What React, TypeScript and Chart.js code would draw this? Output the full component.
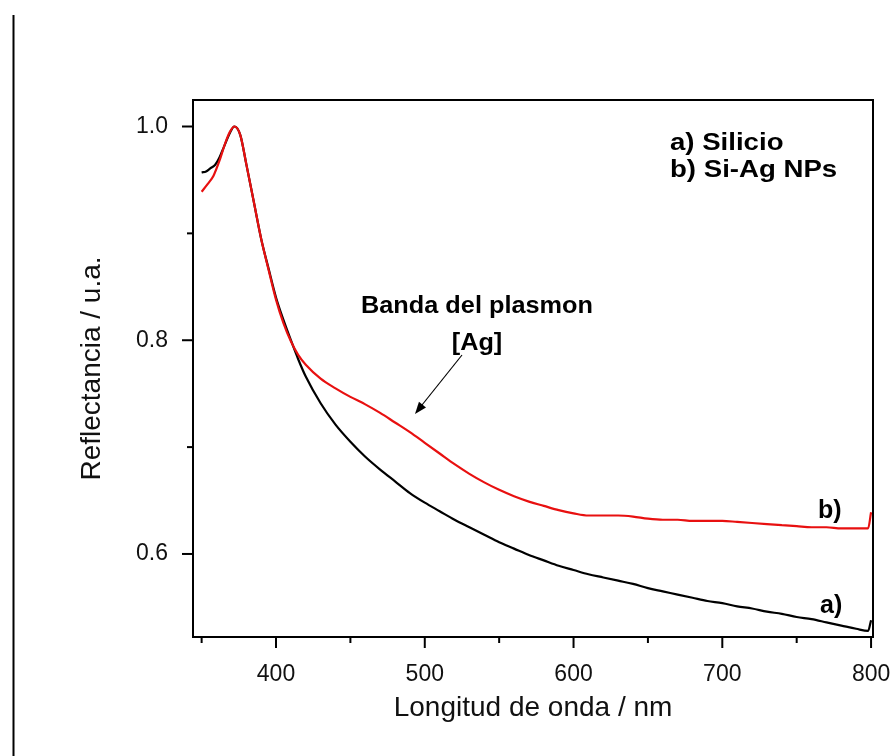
import React, { useEffect, useRef } from 'react';
import { Chart, registerables } from 'chart.js';

Chart.register(...registerables);

const FONT = "'Liberation Sans', Arial, sans-serif";

// a) Silicio
const wavelengthsSilicio = [
  350, 353, 356, 359, 362, 365, 369, 372, 376, 380, 385, 390, 395, 400, 405, 410, 415, 420,
  430, 440, 450, 460, 470, 480, 490, 500, 510, 520, 530, 540, 550, 560, 570, 580, 590, 600,
  610, 620, 630, 640, 650, 660, 670, 680, 690, 700, 710, 720, 730, 740, 750, 760, 770, 780,
  790, 798, 800,
];
const reflectanceSilicio = [
  0.957, 0.958, 0.961, 0.964, 0.971, 0.981, 0.994, 1.0, 0.992, 0.965, 0.93, 0.895, 0.867, 0.84,
  0.819, 0.8, 0.782, 0.766,
  0.741, 0.721, 0.705, 0.691, 0.679, 0.668, 0.657, 0.648, 0.64, 0.632, 0.625, 0.618, 0.611, 0.605,
  0.599, 0.594, 0.589, 0.585, 0.581, 0.578, 0.575, 0.572, 0.568, 0.565, 0.562, 0.559, 0.556,
  0.554, 0.551, 0.549, 0.546, 0.544, 0.541, 0.539, 0.536, 0.533, 0.53, 0.528, 0.538,
];

// b) Si-Ag NPs
const wavelengthsSiAg = [
  350, 354, 358, 362, 366, 369, 372, 376, 380, 385, 390, 395, 400, 405, 410, 415, 420,
  430, 440, 450, 460, 470, 480, 490, 500, 510, 520, 530, 540, 550, 560, 570, 580, 590, 600,
  610, 620, 630, 640, 650, 660, 670, 680, 690, 700, 710, 720, 730, 740, 750, 760, 770, 780,
  790, 798, 800,
];
const reflectanceSiAg = [
  0.939, 0.946, 0.954, 0.968, 0.985, 0.995, 1.0, 0.992, 0.965, 0.93, 0.895, 0.866, 0.838, 0.816,
  0.799, 0.786, 0.777,
  0.764, 0.755, 0.747, 0.74, 0.732, 0.723, 0.714, 0.704, 0.694, 0.684, 0.675, 0.667, 0.66, 0.654,
  0.649, 0.645, 0.641, 0.638, 0.636, 0.636, 0.636, 0.635, 0.633, 0.632, 0.632, 0.631, 0.631,
  0.631, 0.63, 0.629, 0.628, 0.627, 0.626, 0.625, 0.625, 0.624, 0.624, 0.624, 0.639,
];

const xMajorTicks = [400, 500, 600, 700, 800];
const xMinorTicks = [350, 450, 550, 650, 750];
const yMajorTicks = [0.6, 0.8, 1.0];
const yMinorTicks = [0.7, 0.9];

const xMin = 344.2;
const xMax = 801.3;
const yMin = 0.5223;
const yMax = 1.0248;

function drawText(ctx: CanvasRenderingContext2D, text: string, x: number, y: number, size: number, sx: number, align: CanvasTextAlign) {
  ctx.save();
  ctx.translate(x, y);
  ctx.scale(sx, 1);
  ctx.font = `bold ${size}px ${FONT}`;
  ctx.textAlign = align;
  ctx.textBaseline = 'alphabetic';
  ctx.fillStyle = '#000';
  ctx.fillText(text, 0, 0);
  ctx.restore();
}

const decorPlugin = {
  id: 'decor',
  afterDraw(chart: any) {
    const { ctx, chartArea: ca, scales } = chart;
    const xs = scales.x;
    const ys = scales.y;
    ctx.save();
    ctx.strokeStyle = '#000';
    ctx.lineWidth = 2;
    ctx.strokeRect(ca.left, ca.top, ca.right - ca.left, ca.bottom - ca.top);

    const line = (x1: number, y1: number, x2: number, y2: number) => {
      ctx.beginPath();
      ctx.moveTo(x1, y1);
      ctx.lineTo(x2, y2);
      ctx.stroke();
    };
    xMajorTicks.forEach((v) => {
      const p = xs.getPixelForValue(v);
      line(p, ca.bottom, p, ca.bottom + 11);
    });
    xMinorTicks.forEach((v) => {
      const p = xs.getPixelForValue(v);
      line(p, ca.bottom, p, ca.bottom + 6);
    });
    yMajorTicks.forEach((v) => {
      const p = ys.getPixelForValue(v);
      line(ca.left, p, ca.left - 11, p);
    });
    yMinorTicks.forEach((v) => {
      const p = ys.getPixelForValue(v);
      line(ca.left, p, ca.left - 6, p);
    });

    // left page rule
    line(13.5, 15, 13.5, chart.height);

    // annotations
    drawText(ctx, 'a) Silicio', 670, 150, 24, 1.15, 'left');
    drawText(ctx, 'b) Si-Ag NPs', 670, 177, 24, 1.15, 'left');
    drawText(ctx, 'Banda del plasmon', 477, 313, 23, 1.1, 'center');
    drawText(ctx, '[Ag]', 477, 350, 23, 1.1, 'center');
    drawText(ctx, 'b)', 818, 518, 25, 1.0, 'left');
    drawText(ctx, 'a)', 820, 613, 25, 1.0, 'left');

    // arrow
    const ax1 = 462, ay1 = 355, ax2 = 415, ay2 = 414;
    ctx.lineWidth = 1.2;
    line(ax1, ay1, ax2 + 3, ay2 - 4);
    const ang = Math.atan2(ay2 - ay1, ax2 - ax1);
    const hl = 12, hw = 4.5;
    ctx.fillStyle = '#000';
    ctx.beginPath();
    ctx.moveTo(ax2, ay2);
    ctx.lineTo(ax2 - hl * Math.cos(ang) + hw * Math.sin(ang), ay2 - hl * Math.sin(ang) - hw * Math.cos(ang));
    ctx.lineTo(ax2 - hl * Math.cos(ang) - hw * Math.sin(ang), ay2 - hl * Math.sin(ang) + hw * Math.cos(ang));
    ctx.closePath();
    ctx.fill();
    ctx.restore();
  },
};

export default function App() {
  const ref = useRef<HTMLCanvasElement | null>(null);

  useEffect(() => {
    if (!ref.current) return;
    const chart = new Chart(ref.current, {
      type: 'scatter',
      data: {
        datasets: [
          {
            label: 'b) Si-Ag NPs',
            data: wavelengthsSiAg.map((x, i) => ({ x, y: reflectanceSiAg[i] })),
            showLine: true,
            borderColor: 'rgb(232, 16, 16)',
            borderWidth: 2.2,
            pointRadius: 0,
            cubicInterpolationMode: 'monotone',
            order: 0,
          },
          {
            label: 'a) Silicio',
            data: wavelengthsSilicio.map((x, i) => ({ x, y: reflectanceSilicio[i] })),
            showLine: true,
            borderColor: '#000000',
            borderWidth: 2.2,
            pointRadius: 0,
            cubicInterpolationMode: 'monotone',
            order: 1,
          },
        ],
      },
      options: {
        animation: false,
        responsive: false,
        events: [],
        layout: { padding: { top: 100, right: 17, left: 0, bottom: 0 } },
        plugins: { legend: { display: false }, tooltip: { enabled: false } },
        scales: {
          x: {
            type: 'linear',
            min: xMin,
            max: xMax,
            grid: { display: false },
            border: { display: false },
            afterBuildTicks: (s: any) => {
              s.ticks = xMajorTicks.map((v) => ({ value: v }));
            },
            afterFit: (s: any) => {
              s.height = 119;
              s.paddingLeft = 0;
              s.paddingRight = 0;
            },
            ticks: {
              padding: 16,
              color: '#111',
              maxRotation: 0,
              autoSkip: false,
              font: { family: FONT, size: 23 },
              callback: (v: any) => String(v),
            },
            title: {
              display: true,
              text: 'Longitud de onda / nm',
              color: '#111',
              font: { family: FONT, size: 28 },
              padding: { top: 0, bottom: 31 },
            },
          },
          y: {
            type: 'linear',
            min: yMin,
            max: yMax,
            grid: { display: false },
            border: { display: false },
            afterBuildTicks: (s: any) => {
              s.ticks = yMajorTicks.map((v) => ({ value: v }));
            },
            afterFit: (s: any) => {
              s.width = 193;
              s.paddingTop = 0;
              s.paddingBottom = 0;
            },
            ticks: {
              padding: 17,
              color: '#111',
              font: { family: FONT, size: 23 },
              callback: (v: any) => Number(v).toFixed(1),
            },
            title: {
              display: true,
              text: 'Reflectancia / u.a.',
              color: '#111',
              font: { family: FONT, size: 28 },
              padding: { top: 75, bottom: 0 },
            },
          },
        },
      },
      plugins: [decorPlugin],
    } as any);
    return () => chart.destroy();
  }, []);

  return (
    <div style={{ position: 'absolute', left: 0, top: 0, width: 890, height: 756, background: '#fff' }}>
      <canvas ref={ref} width={890} height={756} style={{ display: 'block' }} />
    </div>
  );
}
